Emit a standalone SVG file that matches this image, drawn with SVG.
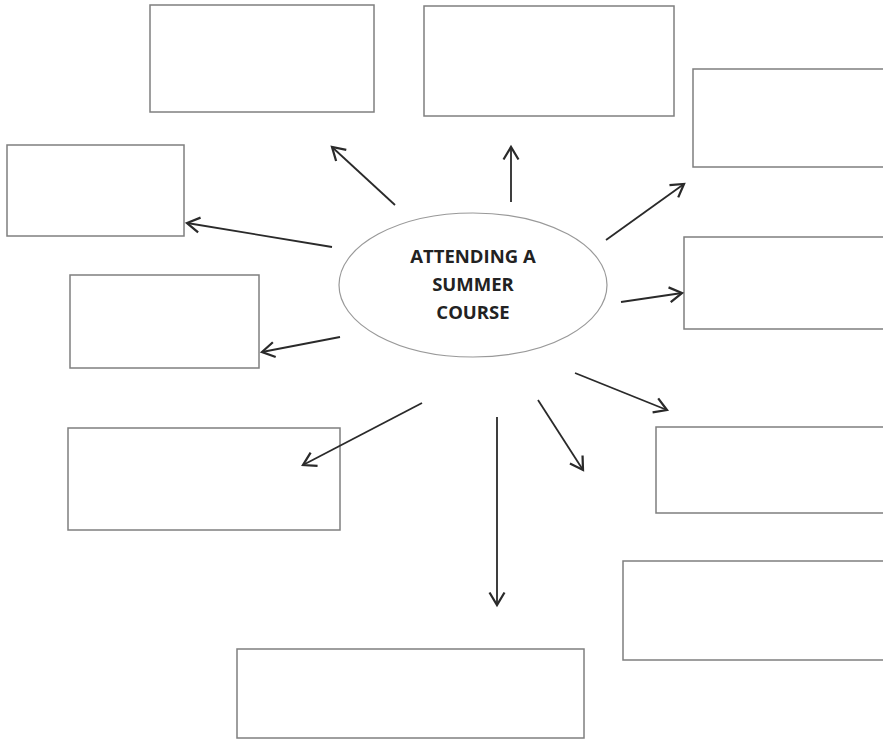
<svg xmlns="http://www.w3.org/2000/svg" width="883" height="742" viewBox="0 0 883 742">
<style>
.box{fill:#fff;stroke:#7f7f7f;stroke-width:1.5}
.arr{fill:none;stroke:#2a2a2a;stroke-width:1.8;marker-end:url(#ah)}
.lbl{font-family:"Open Sans","Liberation Sans",sans-serif;font-weight:bold;font-size:18.5px;fill:#222;text-anchor:middle}
</style>
<defs>
<marker id="ah" markerUnits="userSpaceOnUse" markerWidth="20" markerHeight="20" viewBox="-12 -8 14 16" refX="0" refY="0" orient="auto">
<path d="M-10,-6 L0,0 L-10,6" fill="none" stroke="#2a2a2a" stroke-width="1.8" stroke-linejoin="miter"/>
</marker>
</defs>
<rect width="883" height="742" fill="#fff"/>
<g id="box1"><rect class="box" x="150" y="5" width="224" height="107"/></g>
<g id="box2"><rect class="box" x="424" y="6" width="250" height="110"/></g>
<g id="box3"><path class="box" d="M885,69 H693 V167 H885"/></g>
<g id="box4"><rect class="box" x="7" y="145" width="177" height="91"/></g>
<g id="box5"><path class="box" d="M885,237 H684 V329 H885"/></g>
<g id="box6"><rect class="box" x="70" y="275" width="189" height="93"/></g>
<g id="box7"><rect class="box" x="68" y="428" width="272" height="102"/></g>
<g id="box8"><path class="box" d="M885,427 H656 V513 H885"/></g>
<g id="box9"><path class="box" d="M885,561 H623 V660 H885"/></g>
<g id="box10"><rect class="box" x="237" y="649" width="347" height="89"/></g>
<g id="center">
<ellipse cx="473" cy="285" rx="134" ry="72" fill="#fff" stroke="#999" stroke-width="1.2"/>
<text class="lbl" x="473" y="263">ATTENDING A</text>
<text class="lbl" x="473" y="291">SUMMER</text>
<text class="lbl" x="473" y="319">COURSE</text>
</g>
<g id="connectors">
<line class="arr" x1="395" y1="205" x2="332" y2="147"/>
<line class="arr" x1="511" y1="202" x2="511" y2="147"/>
<line class="arr" x1="606" y1="240" x2="684" y2="184"/>
<line class="arr" x1="332" y1="247" x2="187" y2="223"/>
<line class="arr" x1="340" y1="337" x2="262" y2="352"/>
<line class="arr" x1="422" y1="403" x2="303" y2="465"/>
<line class="arr" x1="538" y1="400" x2="583" y2="470"/>
<line class="arr" x1="575" y1="373" x2="667" y2="410"/>
<line class="arr" x1="497" y1="417" x2="497" y2="605"/>
<line class="arr" x1="621" y1="302" x2="682" y2="293"/>
</g>
</svg>
